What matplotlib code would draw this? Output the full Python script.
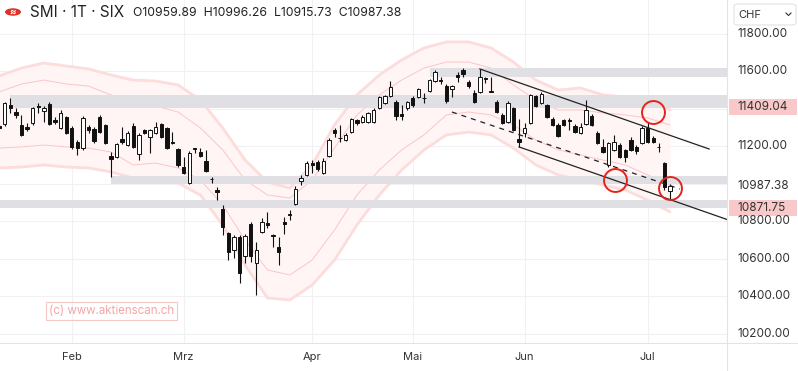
import numpy as np
import matplotlib.pyplot as plt
from matplotlib.patches import Rectangle, Circle, FancyBboxPatch
from matplotlib.lines import Line2D

plt.rcParams['font.family'] = ['Inter', 'DejaVu Sans']

# daily candles, Jan 13 .. Jul 7
opens = [11308, 11318, 11417, 11384, 11313, 11300, 11323, 11414, 11387, 11425,
         11342, 11297, 11355, 11297, 11222, 11190, 11302, 11291, 11355, 11313,
         11148, 11144, 11238, 11206, 11308, 11158, 11286, 11249, 11270, 11317,
         11298, 11222, 11183, 11089, 11006, 11190, 11169, 11123, 11025, 10967,
         10864, 10736, 10647, 10718, 10615, 10786, 10576, 10741, 10789, 10727,
         10665, 10794, 10839, 10891, 11016, 11047, 11110, 11117, 11059, 11148,
         11286, 11244, 11233, 11277, 11339, 11330, 11330, 11330, 11402, 11432,
         11467, 11437, 11369, 11402, 11455, 11463, 11459, 11495, 11549, 11555,
         11523, 11504, 11579, 11603, 11543, 11482, 11490, 11563, 11493, 11437,
         11366, 11329, 11403, 11238, 11270, 11323, 11467, 11430, 11419, 11345,
         11313, 11339, 11336, 11308, 11270, 11318, 11361, 11270, 11196, 11100,
         11180, 11206, 11180, 11233, 11196, 11217, 11297, 11244, 11197, 11110,
         10959.89]
highs = [11320, 11437, 11457, 11403, 11366, 11323, 11409, 11430, 11414, 11437,
         11355, 11393, 11361, 11307, 11233, 11361, 11313, 11302, 11366, 11318,
         11169, 11217, 11304, 11281, 11323, 11270, 11291, 11291, 11329, 11323,
         11302, 11276, 11190, 11142, 11174, 11192, 11190, 11180, 11037, 10983,
         10887, 10745, 10727, 10727, 10732, 10796, 10691, 10816, 10851, 10730,
         10718, 10824, 10860, 10988, 11047, 11121, 11126, 11126, 11135, 11244,
         11297, 11313, 11268, 11350, 11347, 11366, 11382, 11401, 11467, 11473,
         11547, 11446, 11419, 11443, 11467, 11512, 11485, 11558, 11606, 11568,
         11531, 11526, 11597, 11614, 11550, 11499, 11611, 11570, 11570, 11446,
         11377, 11440, 11409, 11345, 11323, 11478, 11473, 11486, 11425, 11355,
         11323, 11345, 11350, 11318, 11323, 11446, 11371, 11281, 11238, 11222,
         11260, 11217, 11185, 11249, 11204, 11308, 11329, 11252, 11217, 11116,
         10996.26]
lows = [11285, 11307, 11377, 11350, 11254, 11281, 11315, 11377, 11329, 11313,
        11318, 11291, 11265, 11185, 11153, 11180, 11270, 11217, 11270, 11212,
        11037, 11137, 11214, 11201, 11190, 11126, 11265, 11164, 11265, 11246,
        11185, 11214, 11089, 11052, 10999, 11162, 11142, 11063, 11006, 10913,
        10727, 10594, 10603, 10470, 10576, 10585, 10408, 10735, 10763, 10665,
        10567, 10732, 10807, 10887, 10993, 11041, 11056, 11068, 11052, 11142,
        11249, 11224, 11228, 11270, 11313, 11323, 11326, 11326, 11398, 11427,
        11462, 11339, 11339, 11393, 11409, 11457, 11428, 11491, 11544, 11531,
        11430, 11462, 11543, 11568, 11512, 11430, 11483, 11535, 11486, 11377,
        11318, 11323, 11281, 11196, 11249, 11318, 11409, 11425, 11350, 11307,
        11249, 11307, 11286, 11270, 11265, 11313, 11307, 11212, 11164, 11087,
        11174, 11137, 11116, 11174, 11158, 11212, 11217, 11217, 11169, 10969,
        10915.73]
closes = [11297, 11431, 11403, 11366, 11260, 11294, 11403, 11406, 11403, 11318,
          11331, 11377, 11270, 11196, 11190, 11350, 11286, 11228, 11276, 11217,
          11132, 11210, 11222, 11272, 11196, 11260, 11270, 11286, 11302, 11251,
          11189, 11217, 11100, 11057, 11165, 11187, 11148, 11068, 11023, 10958,
          10771, 10638, 10718, 10523, 10722, 10615, 10647, 10795, 10780, 10724,
          10638, 10788, 10836, 10970, 11029, 11112, 11100, 11077, 11123, 11233,
          11269, 11241, 11260, 11343, 11322, 11357, 11375, 11393, 11460, 11467,
          11517, 11361, 11363, 11437, 11419, 11503, 11454, 11552, 11597, 11547,
          11443, 11520, 11570, 11587, 11518, 11437, 11568, 11559, 11489, 11384,
          11323, 11430, 11286, 11222, 11297, 11473, 11414, 11478, 11355, 11313,
          11254, 11313, 11333, 11276, 11302, 11393, 11313, 11217, 11169, 11217,
          11222, 11142, 11142, 11180, 11174, 11297, 11222, 11222, 11194, 10983,
          10987.38]

# envelope bands, sampled every 4th candle
band_idx = list(range(0, 121, 4))
band_ou = [11574, 11616, 11643, 11627, 11611, 11579, 11552, 11547, 11526, 11446, 11297,
           11126, 11009, 10977, 11100, 11313, 11473, 11579, 11659, 11723, 11755, 11755,
           11723, 11648, 11552, 11499, 11510, 11473, 11462, 11457, 11393]
band_iu = [11489, 11531, 11552, 11531, 11520, 11473, 11419, 11414, 11382, 11297, 11180,
           11020, 10940, 10924, 11020, 11190, 11366, 11473, 11552, 11616, 11648, 11648,
           11616, 11526, 11446, 11393, 11393, 11377, 11366, 11350, 11313]
band_il = [11190, 11196, 11206, 11196, 11190, 11169, 11100, 11110, 11084, 11020, 10887,
           10700, 10541, 10514, 10594, 10754, 10940, 11073, 11180, 11260, 11366, 11382,
           11366, 11313, 11233, 11180, 11153, 11126, 11100, 11047, 10993]
band_ol = [11084, 11089, 11100, 11089, 11084, 11063, 11031, 11031, 11004, 10940, 10780,
           10567, 10392, 10381, 10461, 10594, 10780, 10940, 11073, 11180, 11260, 11275,
           11260, 11190, 11100, 11047, 11020, 10993, 10967, 10913, 10850]

# gray zones: (start index, low, high)
zones = [(77, 11570, 11615), (2, 11405, 11470), (20, 11000, 11040), (-1, 10872, 10912)]

# channel (start idx, start price, end idx, end price)
chan_upper = (86, 11611, 127, 11185)
chan_lower = (93, 11196, 132, 10791)
chan_mid = (81, 11382, 121.8, 10972)

circles = [(117, 11382), (110.2, 11020), (120, 10978)]

months = ['Feb', 'Mrz', 'Apr', 'Mai', 'Jun', 'Jul']
month_idx = [13, 33, 56, 74, 94, 116]

yticks = [11800, 11600, 11200, 10800, 10600, 10400, 10200]
marked = [(11409.04, True), (10987.38, False), (10871.75, True)]

W, H = 798, 371
PR, PB = 727, 343
Y0, Y1 = 10151.9, 11978.4
fig = plt.figure(figsize=(W / 100, H / 100), dpi=100)
ax = fig.add_axes([0, 1 - PB / H, PR / W, PB / H])
ax.set_xlim(0.16, 130.2)
ax.set_ylim(Y0, Y1)
ax.axis('off')

for yv in range(10200, 11801, 200):
    ax.axhline(yv, color='#f1f1f3', lw=0.8, zorder=0)
for mi in month_idx:
    ax.axvline(mi, color='#f1f1f3', lw=0.8, zorder=0)

ax.fill_between(band_idx, band_ol, band_ou, color='#fff5f5', lw=0, zorder=1)
for b in [band_ou, band_ol]:
    ax.plot(band_idx, b, color='#fddcdc', lw=2.0, zorder=1.5, solid_capstyle='round')
for b in [band_iu, band_il]:
    ax.plot(band_idx, b, color='#fac6c6', lw=0.7, zorder=1.5)

for s, lo, hi in zones:
    ax.fill_between([s, 131], lo, hi, color='#dfdfe4', lw=0, zorder=2)

o = np.array(opens); c = np.array(closes)
hgh = np.array(highs); lw_ = np.array(lows)
x = np.arange(len(o))
up = c >= o
ax.vlines(x, lw_, hgh, color='#111111', lw=0.8, zorder=4)
bot = np.minimum(o, c)
hgt = np.maximum(np.abs(c - o), 4)
ax.bar(x, hgt, bottom=bot, width=0.6, color=np.where(up, 'white', '#111111'),
       edgecolor='#111111', lw=0.7, zorder=5)

for s, p0, e, p1 in [chan_upper, chan_lower]:
    ax.plot([s, e], [p0, p1], color='#222222', lw=0.9, zorder=6)
s, p0, e, p1 = chan_mid
ax.plot([s, e], [p0, p1], color='#222222', lw=0.9, ls=(0, (4, 4)), zorder=6)

for cx, cy in circles:
    ax.plot(cx, cy, 'o', ms=16.5, mfc='none', mec='#e3241b', mew=1.4, zorder=7)


def fy(px):
    return 1 - px / H


def fprice(price):
    # figure fraction of a price level
    return ((price - Y0) / (Y1 - Y0) * PB + (H - PB)) / H


# frame lines
fig.add_artist(Line2D([PR / W, PR / W], [0, 1], color='#e0e3eb', lw=0.8))
fig.add_artist(Line2D([0, 1], [fy(PB), fy(PB)], color='#e0e3eb', lw=0.8))

for yv in yticks:
    fig.text(737 / W, fprice(yv), f'{yv:.2f}', fontsize=8.5,
             color='#333333', va='center', ha='left')
for yv, hl in marked:
    yy = fprice(yv)
    if hl:
        fig.add_artist(Rectangle((729 / W, yy - 8 / H), 68 / W, 16 / H,
                                 transform=fig.transFigure, fc='#f9c8c8', ec='none'))
    fig.text(737 / W, yy, f'{yv:.2f}', fontsize=8.5, color='#333333', va='center', ha='left')

for m, mi in zip(months, month_idx):
    xp = (-0.9 + 5.59 * mi) / W
    fig.text(xp, fy(357), m, fontsize=8, color='#333333', ha='center', va='center')

# currency box
fig.add_artist(FancyBboxPatch((734 / W, fy(25)), 62 / W, 21 / H,
                              boxstyle='round,pad=0,rounding_size=0.006',
                              transform=fig.transFigure, fc='white', ec='#dfe2e8', lw=0.8))
fig.text(738 / W, fy(14.5), 'CHF', fontsize=8, color='#333333', va='center')
fig.add_artist(Line2D([786 / W, 788.5 / W, 791 / W], [fy(13), fy(15.5), fy(13)],
                      color='#333333', lw=0.8))

# header
fig.add_artist(Circle((13 / W, fy(12)), 8 / W, transform=fig.transFigure,
                      fc='#dd3227', ec='none'))
fig.text(13 / W, fy(12), '≈', fontsize=7, color='white', ha='center', va='center',
         fontweight='bold')
fig.text(30 / W, fy(12.5), 'SMI · 1T · SIX', fontsize=11, color='#222222', va='center')
fig.text(133 / W, fy(13), 'O10959.89  H10996.26  L10915.73  C10987.38', fontsize=8.8,
         color='#222222', va='center')

# watermark
fig.text(49 / W, fy(311), '(c) www.aktienscan.ch', fontsize=8.3, color='#f6a5a5',
         va='center', ha='left',
         bbox=dict(boxstyle='square,pad=0.25', fc='none', ec='#f9c6c6', lw=0.8))

fig.savefig('out.png', dpi=100)
